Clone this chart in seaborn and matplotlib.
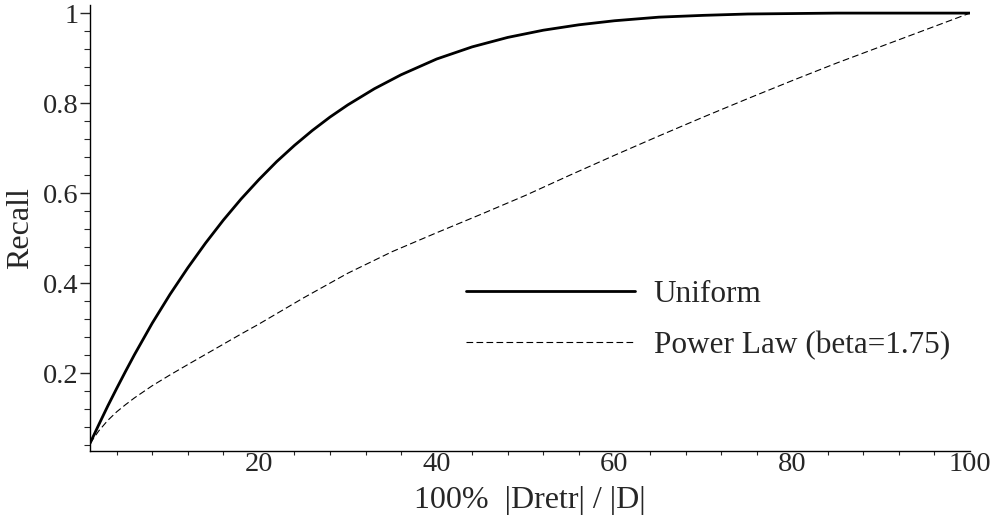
import numpy as np
import pandas as pd
import matplotlib
matplotlib.use("Agg")
import matplotlib.pyplot as plt
import seaborn as sns
from matplotlib.ticker import MultipleLocator, FixedLocator, FixedFormatter

# values
x_uniform = [1, 2, 3, 4, 5, 6, 7, 8, 9, 10, 12, 14, 16, 18, 20, 22, 24, 26,
             28, 30, 33, 36, 40, 44, 48, 52, 56, 60, 65, 70, 75, 80, 85, 90,
             95, 100]
recall_uniform = [0.044, 0.086, 0.127, 0.166, 0.204, 0.241, 0.276, 0.311,
                  0.343, 0.375, 0.434, 0.489, 0.540, 0.587, 0.630, 0.670,
                  0.706, 0.739, 0.769, 0.796, 0.832, 0.863, 0.898, 0.925,
                  0.946, 0.962, 0.974, 0.983, 0.991, 0.995, 0.998, 0.999,
                  1.0, 1.0, 1.0, 1.0]
x_power = [1, 2, 3, 4, 5, 6, 8, 10, 12, 15, 18, 20, 25, 30, 35, 40, 45, 50,
           55, 60, 65, 70, 75, 80, 85, 90, 95, 100]
recall_power = [0.044, 0.072, 0.095, 0.114, 0.130, 0.145, 0.172, 0.196,
                0.219, 0.253, 0.287, 0.309, 0.367, 0.422, 0.470, 0.512,
                0.553, 0.595, 0.640, 0.684, 0.727, 0.769, 0.810, 0.850,
                0.889, 0.926, 0.963, 1.0]
labels = ["Uniform", "Power Law (beta=1.75)"]

y_ticks = [0.2, 0.4, 0.6, 0.8, 1.0]
y_tick_labels = ["0.2", "0.4", "0.6", "0.8", "1"]
x_ticks = [20, 40, 60, 80, 100]

sns.set_style("white")
plt.rcParams["font.family"] = ["Liberation Serif", "DejaVu Serif"]

fig = plt.figure(figsize=(10.01, 5.25), dpi=100)
ax = fig.add_axes([90 / 1001, 1 - 451 / 525, 880 / 1001, (451 - 5) / 525])

df_u = pd.DataFrame({"x": x_uniform, "recall": recall_uniform})
df_p = pd.DataFrame({"x": x_power, "recall": recall_power})

sns.lineplot(data=df_u, x="x", y="recall", ax=ax, color="black", lw=2.0,
             label=labels[0])
sns.lineplot(data=df_p, x="x", y="recall", ax=ax, color="black", lw=0.8,
             linestyle=(0, (6, 3)), label=labels[1])

ax.set_xlim(1, 100)
ax.set_ylim(0.027, 1.018)

for s in ["top", "right"]:
    ax.spines[s].set_visible(False)
for s in ["left", "bottom"]:
    ax.spines[s].set_color("black")
    ax.spines[s].set_linewidth(1.0)

ax.yaxis.set_major_locator(FixedLocator(y_ticks))
ax.yaxis.set_major_formatter(FixedFormatter(y_tick_labels))
ax.yaxis.set_minor_locator(MultipleLocator(0.04))
ax.xaxis.set_major_locator(FixedLocator(x_ticks))
ax.xaxis.set_minor_locator(MultipleLocator(4))

ax.tick_params(axis="y", which="major", direction="out", length=7, width=1,
               pad=1, labelsize=20.5, left=True)
ax.tick_params(axis="y", which="minor", direction="out", length=4, width=0.8,
               left=True)
ax.tick_params(axis="x", which="major", direction="out", length=0, pad=1,
               labelsize=20.5, bottom=True)
ax.tick_params(axis="x", which="minor", direction="out", length=3, width=0.8,
               bottom=True)

ax.set_xlabel("100%  |Dretr| / |D|", fontsize=23, labelpad=6)
ax.set_ylabel("Recall", fontsize=23, labelpad=6)

ax.legend(loc="upper left", bbox_to_anchor=(466 / 1001, 1 - 280 / 525),
          bbox_transform=fig.transFigure, frameon=False, fontsize=22.5,
          handlelength=5.4, handletextpad=0.6, labelspacing=0.7,
          borderpad=0, borderaxespad=0)

fig.savefig("out.png", dpi=100)
